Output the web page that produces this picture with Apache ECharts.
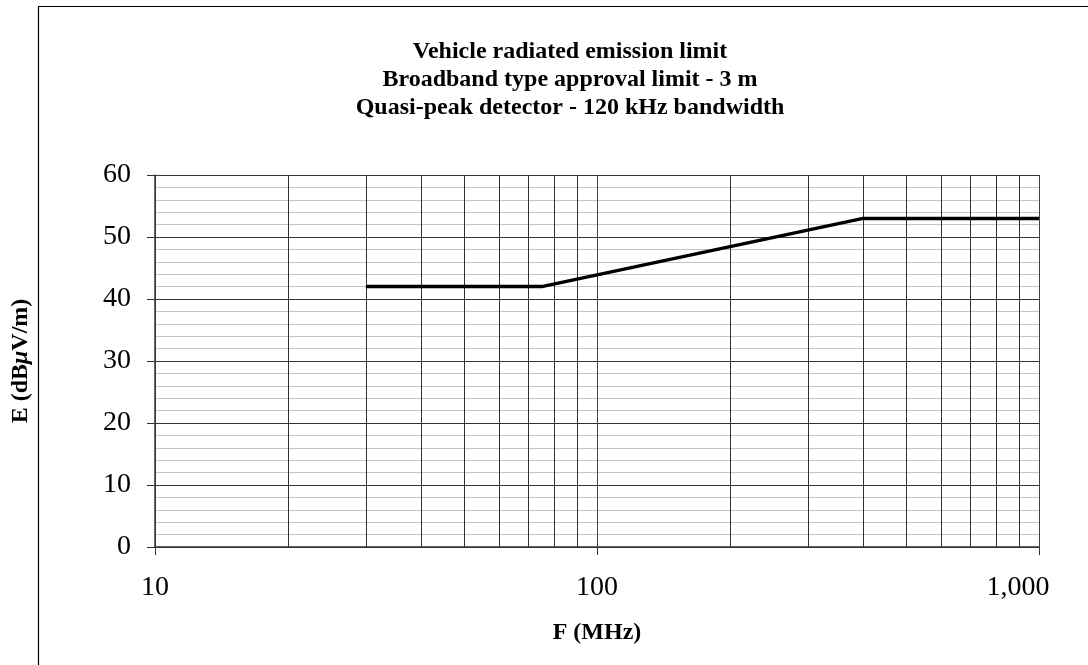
<!DOCTYPE html>
<html>
<head>
<meta charset="utf-8">
<script src="https://cdn.jsdelivr.net/npm/echarts@6/dist/echarts.min.js"></script>
<style>
  html, body { margin: 0; padding: 0; background: #fff; }
  #chart { width: 1088px; height: 665px; }
</style>
</head>
<body>
<div id="chart"></div>
<script>
// limit curve (MHz, dBuV/m)
var freqs = [30, 75, 400, 1000];
var limits = [42, 42, 53, 53];
// vertical grid lines between the decades
var gridFreqs = [20, 30, 40, 50, 60, 70, 80, 90, 200, 300, 400, 500, 600, 700, 800, 900];
var titleLines = [
    'Vehicle radiated emission limit',
    'Broadband type approval limit - 3 m',
    'Quasi-peak detector - 120 kHz bandwidth'
];

var serif = '"Liberation Serif", "Times New Roman", serif';

var chart = echarts.init(document.getElementById('chart'));

var option = {
    animation: false,
    backgroundColor: '#fff',
    title: {
        text: titleLines.join('\n'),
        left: 565,
        textAlign: 'center',
        top: 33,
        textStyle: {
            fontFamily: serif,
            fontWeight: 'bold',
            fontSize: 24,
            lineHeight: 28,
            color: '#000'
        }
    },
    graphic: [
        {
            type: 'rect',
            shape: { x: 38.5, y: 6.5, width: 1200, height: 800 },
            style: { fill: null, stroke: '#000', lineWidth: 1.2 },
            silent: true
        }
    ],
    grid: {
        left: 155,
        right: 49,
        top: 175,
        bottom: 118
    },
    xAxis: {
        type: 'log',
        logBase: 10,
        min: 10,
        max: 1000,
        name: 'F (MHz)',
        nameLocation: 'middle',
        nameGap: 74,
        nameTextStyle: {
            fontFamily: serif,
            fontWeight: 'bold',
            fontSize: 24,
            color: '#000'
        },
        axisLine: { show: true, lineStyle: { color: '#333', width: 1.5 } },
        axisTick: { show: true, length: 8, lineStyle: { color: '#333' } },
        axisLabel: {
            margin: 27,
            fontFamily: serif,
            fontSize: 28,
            color: '#000',
            formatter: function (v) {
                var s = Number(v).toLocaleString('en-US');
                // excel nudges the last label inside the frame
                return v >= 1000 ? '{last|' + s + '}' : s;
            },
            rich: {
                last: {
                    fontFamily: serif,
                    fontSize: 28,
                    color: '#000',
                    padding: [0, 42, 0, 0]
                }
            }
        },
        splitLine: { show: true, lineStyle: { color: '#444', width: 1 } }
    },
    yAxis: {
        type: 'value',
        min: 0,
        max: 60,
        interval: 10,
        name: 'E (dB{mu|μ}V/m)',
        nameLocation: 'middle',
        nameRotate: 90,
        nameGap: 122,
        nameTextStyle: {
            fontFamily: serif,
            fontWeight: 'bold',
            fontSize: 24,
            color: '#000',
            rich: {
                mu: {
                    fontFamily: serif,
                    fontWeight: 'bold',
                    fontStyle: 'italic',
                    fontSize: 24,
                    color: '#000'
                }
            }
        },
        axisLine: { show: true, lineStyle: { color: '#333', width: 1.5 } },
        axisTick: { show: true, length: 8, lineStyle: { color: '#333' } },
        axisLabel: {
            margin: 24,
            fontFamily: serif,
            fontSize: 28,
            color: '#000'
        },
        splitLine: { show: true, lineStyle: { color: '#333', width: 1 } },
        minorTick: { show: false, splitNumber: 5 },
        minorSplitLine: { show: true, lineStyle: { color: '#c4c4c4', width: 1 } }
    },
    series: [
        {
            name: 'grid',
            type: 'line',
            data: [],
            z: 1,
            silent: true,
            markLine: {
                silent: true,
                symbol: ['none', 'none'],
                label: { show: false },
                lineStyle: { type: 'solid', color: '#333', width: 1 },
                data: gridFreqs.map(function (f) { return { xAxis: f }; })
            }
        },
        {
            name: 'limit',
            type: 'line',
            z: 5,
            showSymbol: false,
            symbol: 'none',
            lineStyle: { color: '#000', width: 3.5 },
            data: freqs.map(function (f, i) { return [f, limits[i]]; })
        }
    ]
};

chart.setOption(option);
</script>
</body>
</html>
